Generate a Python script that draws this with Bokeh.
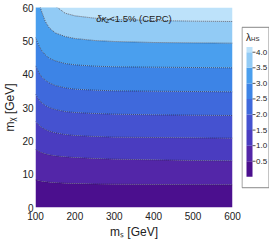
from bokeh.plotting import figure
from bokeh.layouts import row
from bokeh.models import FixedTicker, Label
from bokeh.core.properties import value
from bokeh.embed import file_html
from bokeh.resources import INLINE

# ---- data ----
m_S = [100, 105, 110, 115, 125, 135, 150, 175, 200, 250, 300, 400, 500, 600]
levels = [0.5, 1.0, 1.5, 2.0, 2.5, 3.0, 3.5, 4.0]
b_05 = [8.3, 8.15, 8.0, 7.9, 7.7, 7.6, 7.45, 7.3, 7.2, 7.05, 7.0, 6.9, 6.85, 6.8]
b_10 = [17.4, 17.1, 16.8, 16.5, 16.1, 15.8, 15.5, 15.2, 15.0, 14.7, 14.5, 14.3, 14.1, 14.0]
b_15 = [25.8, 25.2, 24.6, 24.1, 23.4, 22.9, 22.4, 21.9, 21.6, 21.3, 21.1, 21.0, 20.9, 20.8]
b_20 = [34.0, 33.0, 32.2, 31.5, 30.6, 30.0, 29.4, 28.8, 28.5, 28.2, 28.0, 27.8, 27.7, 27.6]
b_25 = [42.5, 41.3, 40.2, 39.3, 38.2, 37.4, 36.6, 35.9, 35.5, 35.2, 35.0, 34.9, 34.8, 34.7]
b_30 = [51.0, 49.6, 48.3, 47.2, 45.8, 44.8, 44.0, 43.2, 42.8, 42.4, 42.2, 42.1, 42.0, 41.9]
b_35 = [66.0, 63.5, 61.0, 59.0, 55.8, 53.9, 52.4, 51.3, 50.7, 50.1, 49.8, 49.5, 49.4, 49.3]
b_40 = [82.0, 78.5, 75.0, 71.5, 67.0, 63.5, 60.5, 58.3, 57.5, 56.8, 56.4, 56.1, 55.9, 55.8]
boundaries = [b_05, b_10, b_15, b_20, b_25, b_30, b_35, b_40]

band_colors = ["#4b0f8e", "#5326a8", "#4a3cc0", "#4552d0", "#3f69dc",
               "#3d84e6", "#4a9fee", "#92cbf5", "#bde2fa"]
x_ticks = [100, 200, 300, 400, 500, 600]
y_ticks = [0, 10, 20, 30, 40, 50, 60]
cb_ticks = [0.5, 1.0, 1.5, 2.0, 2.5, 3.0, 3.5, 4.0]
cb_top = 4.1667
label_pos = (254, 56.7)

FONT = "Liberation Sans"
TXT = "#222222"
BORDERS = dict(min_border_top=7, min_border_bottom=32)

# ---------------- main contour panel ----------------
p = figure(width=241, height=241, x_range=(100, 600), y_range=(0, 60),
           output_backend="svg", toolbar_location=None,
           min_border_left=31, min_border_right=9, **BORDERS)
p.outline_line_color = None
p.xgrid.grid_line_color = None
p.ygrid.grid_line_color = None

lows = [[0.0] * len(m_S)] + boundaries
highs = boundaries + [[60.0] * len(m_S)]
for lo, hi, c in zip(lows, highs, band_colors):
    p.varea(x=m_S, y1=lo, y2=hi, fill_color=c)

for b in boundaries:
    p.line(m_S, b, line_color="#2a2a3a", line_dash="1 1", line_width=0.9, line_alpha=0.8)

for ax in (p.xaxis, p.yaxis):
    ax.axis_line_color = None
    ax.major_tick_in = 0
    ax.major_tick_out = 0
    ax.minor_tick_line_color = None
    ax.major_label_text_font = FONT
    ax.major_label_text_font_size = "10px"
    ax.major_label_text_color = TXT
    ax.axis_label_text_font = FONT
    ax.axis_label_text_font_size = "12px"
    ax.axis_label_text_font_style = "normal"
    ax.axis_label_text_color = TXT
    ax.axis_label_standoff = 2
p.xaxis.ticker = FixedTicker(ticks=x_ticks)
p.yaxis.ticker = FixedTicker(ticks=y_ticks)
p.xaxis.major_label_standoff = 4
p.yaxis.major_label_standoff = 2
p.xaxis.axis_label = "mₛ [GeV]"
p.yaxis.axis_label = "mᵪ [GeV]"

def lab(x, y, text, dx, dy, size, style="normal"):
    p.add_layout(Label(x=x, y=y, x_offset=dx, y_offset=dy, text=text,
                       text_font=FONT, text_font_size=size, text_font_style=style,
                       text_color=TXT, text_align="left", text_baseline="middle"))

lab(label_pos[0], label_pos[1], "δκ", 0, 0, "9.5px", style="italic")
lab(label_pos[0], label_pos[1], "Z", 9.5, -2, "6px", style="italic")
lab(label_pos[0], label_pos[1], "<1.5% (CEPC)", 13, 0, "9.5px")

# ---------------- colour-bar panel ----------------
cb = figure(width=28, height=241, x_range=(0, 28), y_range=(-0.985, 5.436),
            output_backend="svg", toolbar_location=None,
            x_axis_location=None, y_axis_location=None,
            min_border_left=0, min_border_right=0, **BORDERS)
cb.xgrid.grid_line_color = None
cb.ygrid.grid_line_color = None
cb.outline_line_color = None

# legend box
cb.quad(left=0.5, right=27.5, bottom=-0.35, top=4.80, fill_color="white",
        line_color="#888888", line_width=1)
bottoms = [0.0] + levels
tops = levels + [cb_top]
cb.quad(left=5, right=11, bottom=bottoms, top=tops, fill_color=band_colors, line_color=None)
cb.segment(x0=11, x1=14, y0=cb_ticks, y1=cb_ticks, line_color="#555555", line_width=1)
cb.text(x=14.5, y=cb_ticks, text=["%.1f" % t for t in cb_ticks],
        text_font=value(FONT), text_font_size="8px", text_color=TXT,
        text_align="left", text_baseline="middle")
cb.text(x=[4.5], y=[4.48], text=["λ"], text_font=value(FONT), text_font_size="10px",
        text_color=TXT, text_align="left", text_baseline="middle")
cb.text(x=[9.6], y=[4.41], text=["HS"], text_font=value(FONT), text_font_size="6px",
        text_color=TXT, text_align="left", text_baseline="middle")

open("out.html", "w").write(file_html(row(p, cb), INLINE))
